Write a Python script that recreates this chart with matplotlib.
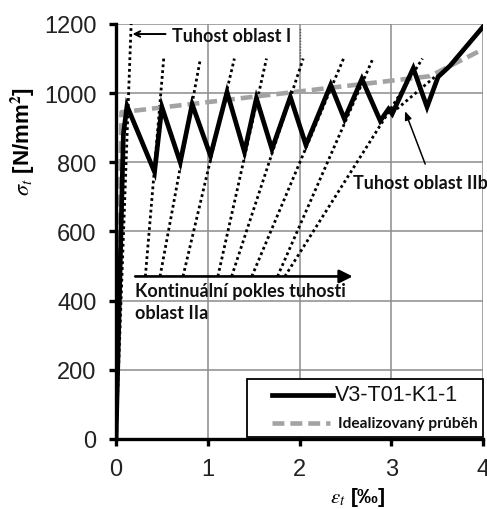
import numpy as np
import matplotlib.pyplot as plt
from matplotlib.lines import Line2D
from matplotlib.patches import Rectangle

plt.rcParams['font.family'] = ['Liberation Sans', 'DejaVu Sans']
plt.rcParams['mathtext.fontset'] = 'stix'

# measured curve (strain in per mille, stress in N/mm2)
strain = [0.0, 0.08, 0.12, 0.42, 0.50, 0.70, 0.83, 1.03, 1.21, 1.40, 1.53,
          1.70, 1.90, 2.07, 2.34, 2.49, 2.68, 2.88, 2.97, 3.01, 3.24, 3.39,
          3.51, 3.64, 4.0]
stress = [0, 880, 963, 772, 960, 800, 968, 819, 1003, 830, 985,
          838, 989, 850, 1024, 925, 1041, 920, 954, 940, 1072, 960,
          1047, 1079, 1192]

# idealised course
ideal_strain = [0.0, 0.06, 3.42, 4.0]
ideal_stress = [0, 945, 1049, 1127]

# stiffness lines (region IIa), drawn between two stress levels
stiff_low, stiff_high = 470, 1100
stiff_x_low = [0.32, 0.48, 0.73, 1.11, 1.26, 1.48, 1.76, 1.84]
stiff_x_high = [0.52, 0.92, 1.29, 1.64, 2.04, 2.48, 2.80, 3.34]

# stiffness region I and IIb
stiff1_x = [0.0, 0.165]
stiff1_y = [0, 1200]
stiff2b_x = [3.06, 3.51]
stiff2b_y = [954, 1055]

xticks = [0, 1, 2, 3, 4]
yticks = [0, 200, 400, 600, 800, 1000, 1200]
labels = ['V3-T01-K1-1', 'Idealizovaný průběh']

fig = plt.figure(figsize=(4.87, 5.10), dpi=100)
ax = fig.add_axes([0.2382, 0.1373, 0.7536, 0.8137])

dots = (0, (1, 1.1))
for xl, xh in zip(stiff_x_low, stiff_x_high):
    ax.plot([xl, xh], [stiff_low, stiff_high], color='black', lw=2.0, ls=dots)
ax.plot(stiff1_x, stiff1_y, color='black', lw=2.0, ls=dots)
ax.plot(stiff2b_x, stiff2b_y, color='black', lw=2.0, ls=dots)
ax.plot([2.0, 2.0], [1100, 1188], color='#555555', lw=1.0, ls=dots)

ideal_style = dict(color='#a3a3a3', lw=3.3, ls=(0, (2.6, 1.3)))
main_style = dict(color='black', lw=3.4, solid_joinstyle='miter')
ax.plot(ideal_strain, ideal_stress, **ideal_style)
ax.plot(strain, stress, **main_style)

ann_font = dict(family=['Lato', 'DejaVu Sans'], weight='bold', fontsize=13,
                color='#111111')

# region I
ax.annotate('', xy=(0.18, 1171), xytext=(0.54, 1171),
            arrowprops=dict(arrowstyle='->', color='black', lw=1.4,
                            shrinkA=0, shrinkB=0))
ax.text(0.61, 1168, 'Tuhost oblast I', va='center', ha='left', **ann_font)

# region IIa
ax.annotate('', xy=(2.58, 470), xytext=(0.21, 470),
            arrowprops=dict(arrowstyle='-|>,head_length=0.8,head_width=0.4',
                            color='black', lw=1.9, shrinkA=0, shrinkB=0))
ax.text(0.21, 428, 'Kontinuální pokles tuhosti', va='center', ha='left', **ann_font)
ax.text(0.21, 366, 'oblast IIa', va='center', ha='left', **ann_font)

# region IIb
ax.annotate('', xy=(3.15, 948), xytext=(3.37, 795),
            arrowprops=dict(arrowstyle='-|>,head_length=0.5,head_width=0.2',
                            color='black', lw=1.1, shrinkA=0, shrinkB=0))
ax.text(2.58, 743, 'Tuhost oblast IIb', va='center', ha='left', **ann_font)

ax.set_xlim(0, 4)
ax.set_ylim(0, 1200)
ax.set_xticks(xticks)
ax.set_yticks(yticks)
ax.grid(True, color='#8c8c8c', lw=1.1)
ax.set_axisbelow(True)
for s in ['top', 'right']:
    ax.spines[s].set_visible(False)
for s in ['left', 'bottom']:
    ax.spines[s].set_linewidth(2.4)
ax.tick_params(direction='out', length=5, width=2.4, labelsize=17, pad=9,
               colors='black')
for lab in ax.get_xticklabels() + ax.get_yticklabels():
    lab.set_color('#222222')

ax.set_ylabel(r'$\sigma_t$ [N/mm$^\mathbf{2}$]', fontsize=16, fontweight='bold')
ax.yaxis.set_label_coords(-0.215, 0.72)
ax.set_xlabel(r'$\varepsilon_t$ [‰]', fontsize=15, fontweight='bold')
ax.xaxis.set_label_coords(0.66, -0.11)

# legend box in the lower right corner
tr = ax.transAxes
ax.add_patch(Rectangle((0.357, 0.005), 0.643, 0.14, transform=tr,
                       facecolor='white', edgecolor='black', lw=1.3,
                       zorder=5, clip_on=False))
ax.add_line(Line2D([0.425, 0.591], [0.106, 0.106], transform=tr, zorder=6,
                   **main_style))
ax.add_line(Line2D([0.425, 0.583], [0.0386, 0.0386], transform=tr, zorder=6,
                   **ideal_style))
ax.text(0.597, 0.106, labels[0], transform=tr, va='center', ha='left',
        fontsize=15.5, color='#111111', zorder=7)
ax.text(0.605, 0.0386, labels[1], transform=tr, va='center', ha='left',
        fontsize=11.2, fontweight='bold', family=['Lato', 'DejaVu Sans'],
        color='#111111', zorder=7)

fig.savefig('out.png', dpi=100)
